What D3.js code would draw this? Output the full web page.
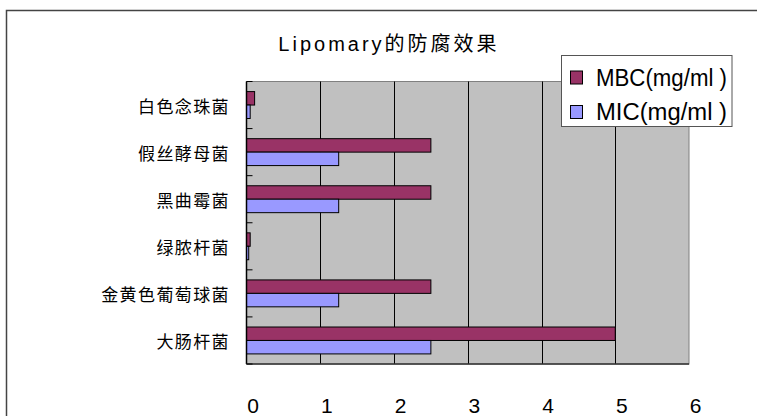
<!DOCTYPE html>
<html><head><meta charset="utf-8">
<script src="https://cdn.jsdelivr.net/npm/d3@7"></script>
<style>body{margin:0;background:#fff}svg{display:block}</style>
</head><body>
<script>
const categories = ["大肠杆菌","金黄色葡萄球菌","绿脓杆菌","黑曲霉菌","假丝酵母菌","白色念珠菌"];
const seriesNames = ["MBC(mg/ml )","MIC(mg/ml )"];
const mbc = [5, 2.5, 0.05, 2.5, 2.5, 0.11];
const mic = [2.5, 1.25, 0.03, 1.25, 1.25, 0.05];
const xTicks = [0,1,2,3,4,5,6];
const colors = ["#993366","#9999FF"];
const title = "Lipomary的防腐效果";

const W = 757, H = 416;
const svg = d3.select("body").append("svg").attr("width", W).attr("height", H);
svg.append("rect").attr("width", W).attr("height", H).attr("fill", "#fff");
svg.append("rect").attr("x", 6.5).attr("y", 10.5).attr("width", 800).attr("height", 500)
  .attr("fill", "none").attr("stroke", "#444").attr("stroke-width", 1.5);

const L = 246.5, R = 689, T = 81.5, B = 364;
const x = d3.scaleLinear().domain([0, 6]).range([L, R]);
const y = d3.scaleBand().domain(categories.slice().reverse()).range([T, B]).paddingInner(0).paddingOuter(0);

svg.append("rect").attr("x", L).attr("y", T).attr("width", R - L).attr("height", B - T)
  .attr("fill", "#C0C0C0").attr("stroke", "#808080").attr("stroke-width", 1);

// gridlines
svg.append("g").selectAll("line").data(xTicks.slice(1, -1)).join("line")
  .attr("x1", d => Math.round(x(d)) + 0.5).attr("x2", d => Math.round(x(d)) + 0.5)
  .attr("y1", T).attr("y2", B).attr("stroke", "#000").attr("stroke-width", 1);

// bars
const barH = y.bandwidth() / 3.5;
const data = categories.map((c, i) => ({c, v: [mbc[i], mic[i]]}));
const g = svg.append("g");
data.forEach(d => {
  d.v.forEach((v, j) => {
    const yc = y(d.c) + y.bandwidth() / 2 - barH + j * barH;
    g.append("rect").attr("x", x(0)).attr("y", yc).attr("width", x(v) - x(0)).attr("height", barH)
      .attr("fill", colors[j]).attr("stroke", "#000").attr("stroke-width", 1);
  });
});

// axes lines
svg.append("line").attr("x1", L).attr("x2", L).attr("y1", T).attr("y2", B).attr("stroke", "#000").attr("stroke-width", 1.5);
svg.append("line").attr("x1", L).attr("x2", R).attr("y1", B).attr("y2", B).attr("stroke", "#333").attr("stroke-width", 1.5);
const boundaries = categories.map((c) => y(c)).concat([B]);
svg.append("g").selectAll("line").data(boundaries).join("line")
  .attr("x1", L).attr("x2", L + 6).attr("y1", d => d).attr("y2", d => d).attr("stroke", "#000");

// category labels
svg.append("g").selectAll("text").data(categories).join("text")
  .attr("x", 230).attr("y", d => y(d) + y.bandwidth() / 2)
  .attr("text-anchor", "end").attr("dominant-baseline", "central")
  .attr("font-family", "Noto Sans CJK SC").attr("font-size", 17).attr("letter-spacing", 1.4)
  .attr("fill", "#000").text(d => d);

// x axis labels
const xa = svg.append("g").attr("transform", `translate(0,${B})`)
  .call(d3.axisBottom(x).tickValues(xTicks).tickSize(0).tickFormat(d3.format("d")));
xa.select(".domain").remove();
xa.selectAll("text").attr("font-family", "Liberation Sans").attr("font-size", 21)
  .attr("fill", "#000").attr("dx", 6).attr("dy", 0).attr("y", 49);

// title
svg.append("text").attr("x", 389).attr("y", 51).attr("text-anchor", "middle")
  .attr("font-family", "Liberation Sans, Noto Sans CJK SC").attr("font-size", 20)
  .attr("letter-spacing", 3).attr("fill", "#000").text(title);

// legend
const lg = svg.append("g");
lg.append("rect").attr("x", 561.5).attr("y", 55.5).attr("width", 170.5).attr("height", 71)
  .attr("fill", "#fff").attr("stroke", "#555").attr("stroke-width", 1);
seriesNames.forEach((s, i) => {
  const cy = 77.5 + i * 34.5;
  lg.append("rect").attr("x", 570.5).attr("y", cy - 6.5).attr("width", 12).attr("height", 13)
    .attr("fill", colors[i]).attr("stroke", "#000");
  lg.append("text").attr("x", 596).attr("y", cy + 8).attr("font-family", "Liberation Sans")
    .attr("font-size", 23).attr("textLength", 131).attr("lengthAdjust", "spacingAndGlyphs")
    .attr("fill", "#000").text(s);
});
</script>
</body></html>
